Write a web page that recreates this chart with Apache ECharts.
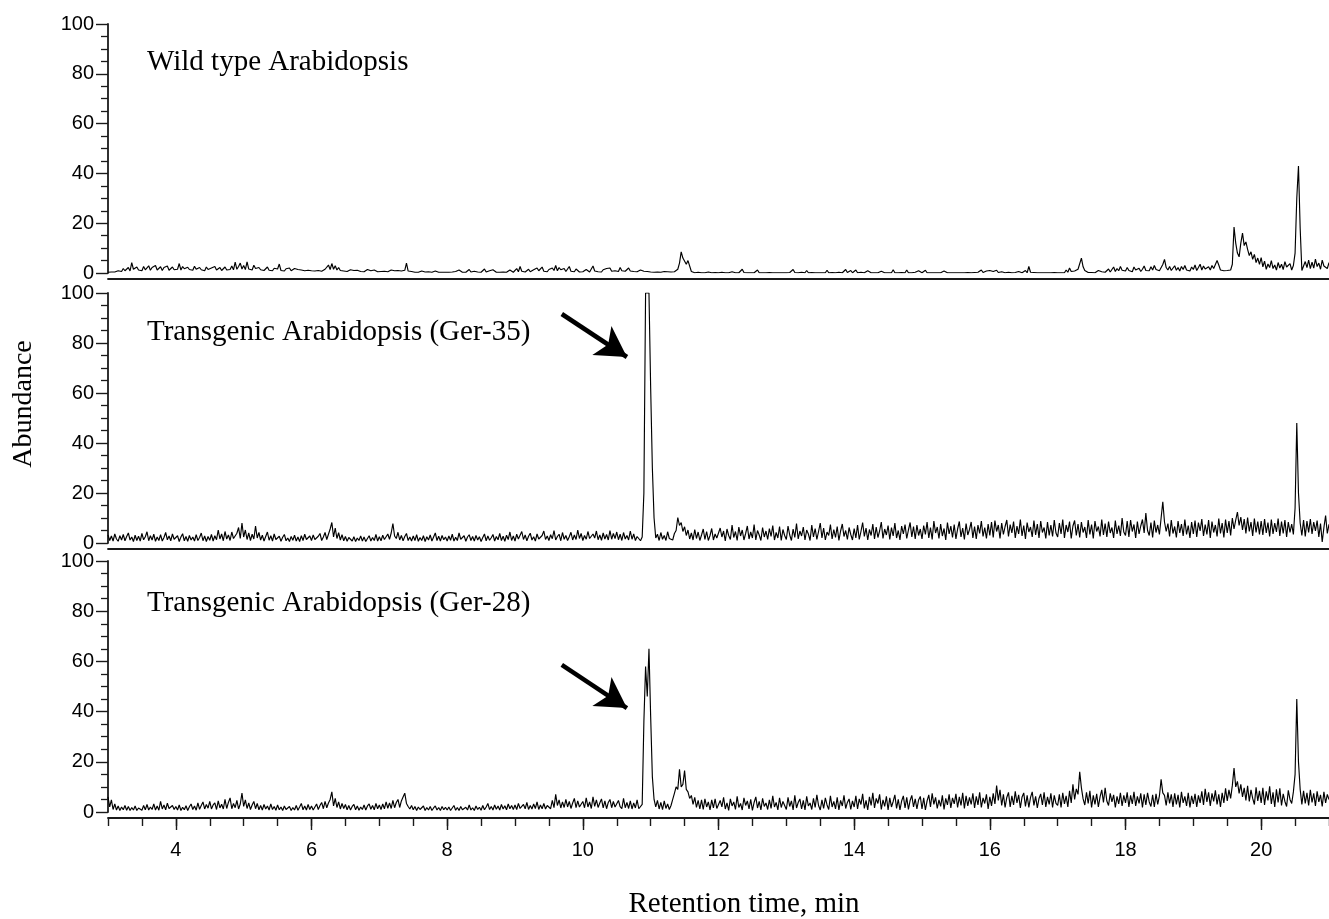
<!DOCTYPE html>
<html>
<head>
<meta charset="utf-8">
<script src="https://cdn.jsdelivr.net/npm/echarts@6/dist/echarts.min.js"></script>
<style>
html,body{margin:0;padding:0;background:#fff;}
#chart{width:1329px;height:919px;}
</style>
</head>
<body>
<div id="chart"></div>
<script>
// ---- DATA ----
const startTime = 3.0;      // min
const timeStep = 0.025;     // min between samples
const panelTitles = ['Wild type Arabidopsis', 'Transgenic Arabidopsis (Ger-35)', 'Transgenic Arabidopsis (Ger-28)'];
const xLabelValues = [4, 6, 8, 10, 12, 14, 16, 18, 20];
const xMinorTickValues = [3, 3.5, 4, 4.5, 5, 5.5, 6, 6.5, 7, 7.5, 8, 8.5, 9, 9.5, 10, 10.5, 11, 11.5, 12, 12.5, 13, 13.5, 14, 14.5, 15, 15.5, 16, 16.5, 17, 17.5, 18, 18.5, 19, 19.5, 20, 20.5, 21];
const yTickValues = [0, 20, 40, 60, 80, 100];
// arrows: [startTime, startAbundance, tipTime, tipAbundance]
const arrowGer35 = [9.69, 91.6, 10.65, 74.4];
const arrowGer28 = [9.69, 58.6, 10.65, 41.4];

// Wild type abundance, one row per minute (40 samples each), 3.0 .. 21.0 min
const wildType = [
0.3,0.3,0.4,1.2,0.4,0.5,0.9,1.6,0.6,1.8, 0.9,1.4,2.2,0.8,4.2,1.5,1.0,2.4,1.2,1.9, 0.9,2.6,1.3,1.8,2.9,1.1,2.2,1.5,3.0,1.2, 1.8,2.5,1.0,2.2,1.4,2.8,1.1,1.9,2.4,1.3,
2.1,1.5,3.8,1.2,2.6,1.7,1.0,2.3,1.4,2.0, 1.1,2.7,1.5,1.0,2.2,1.3,1.9,0.9,2.4,1.4, 1.1,2.0,1.5,2.6,1.2,1.8,2.2,1.0,1.6,2.4, 1.2,1.9,1.4,2.8,1.3,4.4,1.5,2.6,4.0,1.6,
3.0,1.4,4.5,1.6,2.3,1.2,3.1,1.8,1.2,2.2, 1.3,1.8,1.0,1.6,2.4,1.1,1.5,0.9,1.9,1.2, 1.6,3.6,1.0,1.4,0.8,1.7,1.1,2.0,0.9,1.3, 1.8,1.0,1.4,0.7,1.2,1.9,0.9,1.3,1.1,1.6,
0.9,1.3,0.8,1.6,1.0,1.2,0.7,1.1,1.5,0.8, 3.2,1.4,3.8,1.5,2.9,1.2,2.2,1.0,1.5,0.8, 1.2,0.6,0.9,1.3,0.7,1.0,0.5,1.1,0.8,0.6, 1.0,0.5,0.8,1.4,0.6,0.9,0.5,1.2,0.7,0.5,
0.9,0.6,1.3,0.7,1.0,0.5,0.8,1.2,0.6,0.9, 0.5,1.0,0.6,0.8,0.4,1.1,4.0,0.8,0.5,0.6, 0.4,0.3,0.6,0.3,0.4,0.8,0.3,0.4,0.3,0.5, 0.3,0.3,0.4,0.8,0.3,0.3,0.5,0.3,0.4,0.3,
0.4,0.3,1.0,0.4,0.3,0.6,0.3,1.2,0.4,0.3, 0.8,0.3,0.5,1.4,0.4,0.3,0.7,0.3,0.4,1.0, 0.3,0.6,1.6,0.4,0.3,0.9,0.3,1.3,0.5,0.3, 0.6,0.3,1.1,0.4,0.8,0.3,0.5,1.2,0.4,0.3,
0.6,1.8,0.5,2.6,0.7,1.2,0.4,0.9,1.5,0.5, 0.8,1.3,0.5,2.0,0.9,0.6,2.4,0.7,1.1,0.5, 1.4,0.6,2.0,1.0,3.0,0.9,2.2,1.3,0.8,1.8, 0.6,1.2,2.6,0.7,1.0,0.5,1.6,0.8,0.4,1.0,
0.5,0.9,1.4,0.6,0.4,1.0,2.8,0.8,1.2,0.5, 0.9,0.4,1.3,0.6,1.8,1.0,2.0,0.7,1.5,0.9, 1.3,0.6,2.2,0.9,1.6,0.7,1.2,2.0,0.8,1.4, 0.6,1.0,0.5,0.8,1.2,0.5,0.7,0.4,0.6,0.5,
0.4,0.5,0.3,0.6,0.4,0.5,0.3,0.4,0.6,0.4, 0.5,0.3,0.4,0.6,0.5,0.8,1.5,4.0,8.5,6.0, 5.5,3.5,5.0,4.5,0.6,0.2,0.1,0.1,0.3,0.1, 0.1,0.2,0.1,0.1,0.4,0.1,0.1,0.1,0.2,0.1,
0.1,0.1,0.3,0.1,0.1,0.2,0.1,0.1,0.5,0.1, 0.1,0.2,0.1,0.1,1.5,0.2,0.1,0.1,0.3,0.1, 0.1,0.1,0.2,1.2,0.1,0.1,0.1,0.3,0.1,0.1, 0.2,0.1,0.1,0.6,0.1,0.1,0.1,0.2,0.1,0.1,
0.1,0.1,0.2,0.1,1.4,0.2,0.1,0.1,0.1,0.3, 0.1,0.1,1.0,0.1,0.1,0.2,0.1,0.1,0.1,0.1, 0.2,0.1,0.1,0.1,1.1,0.1,0.1,0.2,0.1,0.1, 0.1,0.3,0.1,0.1,0.1,1.4,0.2,0.1,1.0,0.1,
0.2,1.2,0.1,0.1,0.3,0.1,0.1,0.1,0.9,0.1, 0.1,0.2,0.1,0.1,0.1,0.1,0.7,0.1,0.1,0.1, 0.1,0.2,0.1,1.3,0.1,0.1,0.1,0.1,0.2,0.1, 0.1,1.2,0.1,0.1,0.1,0.1,0.3,0.1,0.9,0.1,
0.1,0.1,1.1,0.1,0.1,0.1,0.2,0.1,0.9,0.1, 0.1,0.1,0.1,0.8,0.1,0.1,0.1,0.1,0.1,0.1, 0.1,0.1,0.1,0.1,0.1,0.1,0.1,0.2,0.1,0.1, 0.8,0.2,1.0,0.3,0.1,1.2,0.2,0.1,0.8,0.3,
1.0,0.2,0.6,0.1,1.1,0.2,0.1,0.5,0.1,0.1, 0.1,0.3,0.1,0.1,0.1,0.2,0.1,0.6,0.2,0.1, 0.1,1.0,0.1,2.6,0.3,0.1,0.2,0.1,0.1,0.1, 0.1,0.2,0.1,0.1,0.1,0.3,0.1,0.1,0.2,0.1,
0.1,0.3,0.1,0.8,0.1,1.2,0.3,2.0,0.6,0.3, 0.8,0.4,1.5,2.2,6.0,2.5,1.0,0.3,0.2,0.5, 0.2,0.8,0.1,0.3,1.0,0.2,0.5,1.2,0.3,0.9, 1.6,0.4,1.2,2.4,0.6,1.8,0.9,2.6,1.1,1.5,
0.8,2.2,1.0,1.6,0.5,2.4,1.2,0.7,1.9,0.6, 1.5,2.8,1.0,1.8,0.9,2.5,1.2,3.0,1.4,2.2, 0.9,1.6,3.4,5.5,2.2,1.2,2.6,1.0,1.8,2.9, 1.1,2.2,0.8,2.6,1.4,3.0,1.2,1.9,0.8,2.4,
1.4,3.2,1.0,2.2,3.5,1.2,2.8,1.6,0.9,2.5, 1.2,3.0,1.8,2.6,5.0,3.2,1.2,1.8,0.9,1.5, 1.0,1.8,1.2,3.5,18.5,12.0,8.0,6.5,12.0,16.0, 11.0,12.5,9.5,7.0,8.5,5.5,7.5,4.2,6.0,3.5,
6.2,2.5,4.8,1.5,3.6,2.2,5.0,1.8,3.2,1.2, 4.2,2.0,3.5,1.4,4.6,2.4,1.6,3.8,1.2,3.0, 8.0,30.0,43.0,18.0,1.0,0.5,4.6,2.2,5.2,1.8, 4.4,2.0,5.6,2.6,4.0,1.5,5.2,2.8,3.6,1.8,
4.2
];

// Transgenic Ger-35 abundance
const ger35 = [
3.2,1.0,2.8,0.8,3.6,1.6,0.7,2.9,1.2,3.4, 0.9,2.6,4.0,1.2,2.4,0.6,3.1,1.0,2.7,0.8, 3.8,1.3,2.5,4.5,0.9,2.9,1.2,3.5,0.7,2.4, 1.0,3.3,0.8,2.2,4.2,1.3,2.8,0.9,3.6,1.5,
1.0,2.9,0.6,2.4,3.7,0.9,2.6,0.7,3.0,1.2, 2.4,0.8,3.3,1.0,2.2,4.0,0.9,2.8,0.6,2.6, 1.1,3.4,0.8,2.9,1.3,5.2,1.6,3.6,0.9,4.6, 1.6,3.2,1.0,4.4,1.8,1.2,3.9,6.2,1.8,8.0,
2.4,5.2,1.4,4.0,1.0,3.5,1.6,6.8,2.0,4.2, 1.2,3.1,0.8,2.6,4.4,1.1,2.9,0.8,3.6,1.4, 0.9,2.7,0.7,2.3,3.4,0.9,2.0,0.6,2.6,1.1, 3.1,0.8,2.4,0.6,2.9,1.0,3.5,1.4,0.8,2.8,
1.0,3.2,1.4,0.8,2.7,3.8,1.0,2.4,4.2,1.4, 3.5,5.6,8.2,2.4,6.0,1.8,4.1,1.2,3.3,0.9, 2.6,0.7,2.2,3.0,0.8,2.5,0.6,2.0,1.0,2.8, 0.8,2.4,0.6,1.8,2.9,0.8,2.2,1.0,3.4,0.8,
2.5,0.9,3.1,1.4,1.0,3.6,1.5,4.0,7.8,2.8, 1.8,4.3,1.2,3.0,0.9,2.6,3.8,1.0,2.4,0.8, 2.8,1.0,3.3,0.7,2.2,1.0,2.9,0.6,2.5,1.2, 3.2,0.8,2.4,4.0,1.0,2.7,0.8,3.0,1.3,2.4,
0.8,2.8,1.1,3.5,0.8,2.3,1.0,4.0,1.5,0.9, 2.9,0.7,2.4,3.3,1.0,2.6,0.8,3.0,1.2,2.5, 0.6,2.2,3.6,0.9,2.8,1.1,2.1,3.4,0.8,2.6, 1.3,3.8,1.0,2.7,0.7,3.1,1.4,4.4,1.0,2.8,
0.8,3.5,1.6,1.0,4.6,1.4,3.2,0.9,2.7,3.9, 1.2,2.5,0.8,3.6,1.6,1.0,3.0,4.8,1.4,2.8, 1.0,3.3,1.7,5.0,1.2,2.6,3.5,0.9,4.2,1.5, 3.0,1.0,2.5,4.3,1.2,3.2,1.4,5.2,1.8,3.8,
1.0,3.0,1.5,4.6,1.8,1.2,3.6,2.0,4.8,1.3, 3.2,1.1,4.0,1.6,3.4,1.2,5.0,1.5,3.8,1.8, 4.4,1.3,3.5,1.0,4.2,1.6,3.0,1.2,4.8,1.5, 3.6,1.0,2.6,3.2,0.9,2.4,20.0,100,100,100,
62,30,10,2.0,3.5,1.0,4.2,1.5,3.0,1.0, 4.5,1.8,2.6,1.2,3.8,5.0,10.2,7.0,8.2,4.6, 6.5,3.0,5.2,1.6,4.0,1.2,5.4,1.8,4.4,1.0, 3.2,5.6,1.4,4.6,1.0,3.0,5.8,1.2,3.6,2.0,
1.2,6.0,2.4,4.8,0.8,5.6,3.0,1.4,7.2,2.2, 4.6,1.0,6.4,2.8,5.2,1.2,3.8,6.8,1.6,4.4, 2.0,7.4,1.2,5.0,3.2,1.0,6.2,2.4,4.8,1.4, 5.8,2.6,7.0,1.2,4.2,2.0,6.6,1.0,5.4,3.0,
1.4,6.8,3.2,1.0,5.6,2.2,7.8,1.6,4.8,2.8, 6.4,1.2,5.2,3.6,1.0,7.2,2.4,5.8,1.4,4.6, 8.0,2.0,6.0,1.2,4.4,3.0,7.4,1.6,5.4,2.2, 6.6,1.0,4.8,7.6,2.6,5.0,1.4,6.2,3.4,1.2,
5.8,2.0,7.2,1.4,4.6,8.2,2.6,6.0,1.2,5.4, 3.0,7.6,1.6,6.4,2.2,4.8,8.4,1.8,5.6,3.2, 7.0,1.4,6.2,2.8,8.0,2.0,5.0,1.2,6.8,3.6, 7.4,1.8,5.2,8.2,2.4,6.6,1.6,7.2,3.0,5.6,
1.6,7.0,3.4,8.4,2.0,6.2,1.4,8.8,4.0,6.4, 1.8,7.6,2.8,5.8,1.2,8.2,3.6,6.8,2.2,7.4, 1.6,5.6,8.6,2.4,6.0,1.4,7.8,3.2,5.4,8.4, 2.0,6.6,1.6,7.2,3.8,8.8,2.6,6.2,1.8,7.6,
3.0,8.4,2.2,9.0,4.6,7.2,1.8,8.0,3.4,6.6, 9.2,2.6,7.4,4.0,8.6,2.0,6.8,3.6,9.4,2.8, 7.0,1.6,8.2,4.4,6.4,2.4,9.0,3.2,7.6,2.0, 8.8,4.2,6.2,1.8,8.4,3.0,7.2,2.6,9.2,4.0,
2.4,8.0,3.6,9.4,2.0,7.2,4.4,8.6,1.8,6.8, 9.0,3.0,7.6,2.2,8.4,4.2,6.4,2.0,9.2,3.4, 7.4,1.8,8.8,4.6,6.6,2.6,9.4,3.2,7.8,2.4, 8.6,4.0,6.2,2.0,9.0,3.6,7.0,2.8,10.0,4.4,
3.0,8.8,2.4,9.2,4.6,7.4,2.0,8.6,3.6,6.8, 9.4,4.0,12.0,5.0,3.0,8.2,2.2,9.0,4.2,7.2, 3.4,10.0,16.5,8.4,4.6,7.8,2.6,9.2,3.8,6.6, 2.2,8.8,4.0,7.6,2.8,9.4,3.4,7.0,2.0,8.4,
3.6,9.0,2.4,8.2,4.8,9.6,2.8,7.4,3.4,9.2, 2.0,8.6,4.2,7.2,2.6,9.8,3.8,8.0,2.2,9.4, 4.0,8.8,3.0,10.0,5.6,9.2,12.4,7.0,10.4,5.2, 9.6,3.8,10.2,4.6,8.4,2.8,9.8,4.2,8.6,3.4,
8.8,3.2,9.6,4.0,8.2,2.6,9.4,3.6,8.0,4.4, 9.8,2.8,8.6,3.8,9.2,2.4,8.4,4.2,7.6,3.4, 14.0,48.0,20.0,8.0,3.0,9.2,2.6,8.8,4.2,9.6, 3.6,8.4,4.8,9.0,2.4,7.8,0.4,6.2,11.0,3.8,
7.5
];

// Transgenic Ger-28 abundance
const ger28 = [
6.0,2.0,4.8,1.0,3.2,0.8,2.4,0.6,2.0,0.9, 2.6,0.7,2.2,0.6,1.8,0.8,2.4,0.6,1.6,2.2, 0.7,2.6,0.9,3.0,0.8,2.0,1.0,3.2,0.8,2.4, 0.7,4.2,1.2,2.8,0.9,3.5,1.4,0.8,2.6,1.0,
2.2,0.8,2.8,0.6,1.9,0.9,2.5,0.6,2.1,3.2, 1.0,2.4,0.7,3.6,1.1,2.6,4.0,1.2,3.0,1.5, 4.2,1.2,2.8,3.6,1.0,4.4,1.6,3.1,1.2,5.0, 1.4,3.8,5.6,1.3,3.4,1.7,4.6,1.2,3.2,7.5,
2.2,4.8,1.4,3.6,1.0,2.8,4.2,1.3,3.4,0.9, 2.6,0.8,3.0,1.2,2.4,0.8,3.2,1.0,2.2,0.7, 2.8,0.9,2.0,0.6,2.4,1.0,0.8,2.2,0.6,1.8, 0.8,2.6,0.7,2.0,3.4,0.9,2.4,0.8,3.0,1.0,
2.4,0.8,2.0,3.2,1.0,2.6,3.8,1.3,4.2,1.7, 3.6,5.0,8.0,2.4,5.4,1.8,4.0,1.2,3.4,1.4, 3.0,0.9,2.6,0.8,2.2,3.0,0.9,2.4,0.7,2.0, 1.0,2.8,0.8,2.4,3.2,1.1,2.6,0.9,3.4,1.3,
2.8,1.0,3.2,1.3,4.0,1.5,3.6,1.4,4.6,1.7, 3.8,5.0,1.8,4.4,6.0,7.5,3.4,2.2,1.2,2.6, 0.9,2.2,0.6,2.0,1.0,0.8,2.4,0.6,1.8,0.8, 2.2,0.6,1.6,2.4,0.8,1.8,0.6,2.2,0.9,1.9,
0.8,2.0,0.6,1.6,2.6,0.7,1.8,0.6,2.2,0.9, 0.6,1.9,0.8,2.8,0.8,1.7,0.6,2.4,1.0,1.9, 0.7,2.6,0.9,2.0,3.4,1.0,2.2,0.8,2.8,1.1, 2.4,0.8,3.0,1.2,2.5,0.9,3.2,1.3,2.6,1.0,
2.8,1.0,3.4,1.4,0.9,3.0,1.3,3.8,1.0,2.6, 1.2,3.2,1.4,4.0,1.0,2.8,1.3,3.4,1.2,2.6, 3.2,1.3,4.6,1.7,7.0,2.6,4.8,1.6,4.0,1.8, 5.0,2.0,4.2,1.4,3.6,5.4,1.7,4.4,2.0,1.6,
4.2,1.7,5.6,2.0,4.0,1.4,6.0,2.2,4.8,1.8, 3.6,5.2,1.6,4.4,1.3,3.8,5.0,1.7,4.2,2.0, 1.4,4.6,2.1,1.3,5.4,1.7,3.8,1.4,4.4,1.2, 3.6,1.6,4.8,1.3,1.0,3.0,36.0,58.0,46.0,65.0,
38.0,14.0,5.0,2.0,4.6,1.2,3.8,0.9,4.4,1.4, 3.2,1.0,2.6,5.0,7.4,10.0,9.0,17.0,10.0,11.0, 16.5,9.0,8.0,5.4,6.6,3.0,5.8,1.8,4.6,1.2, 4.8,1.0,5.2,2.0,4.0,0.8,4.8,1.6,5.2,1.4,
0.8,4.6,2.0,5.8,1.2,3.6,0.6,5.2,2.4,4.0, 1.0,6.2,1.8,3.4,0.8,5.6,2.6,4.4,1.2,5.0, 0.6,3.8,6.0,1.6,4.2,0.8,5.4,2.2,3.6,1.0, 4.8,1.4,6.4,2.0,3.8,0.8,5.6,1.8,4.2,2.6,
1.0,5.8,2.2,4.4,0.8,6.6,1.6,3.8,5.2,1.2, 4.6,0.8,6.2,2.4,3.6,1.0,5.4,1.8,6.8,2.6, 0.8,4.8,1.4,5.6,2.8,1.0,6.4,2.0,4.2,1.2, 5.8,0.8,4.6,2.4,6.6,1.4,3.8,5.2,1.0,4.4,
2.0,6.4,1.2,5.2,3.0,7.2,1.4,4.6,0.8,6.0, 2.6,7.6,1.6,5.4,3.4,7.0,1.0,4.8,2.2,6.2, 0.8,5.6,2.0,4.2,6.8,1.4,5.0,0.8,4.4,6.4, 1.6,5.8,1.0,4.6,6.6,2.0,5.2,1.2,4.8,6.2,
1.2,5.6,0.8,4.4,6.8,2.0,7.4,3.0,5.8,1.4, 4.8,2.2,6.6,1.0,5.4,2.8,7.0,1.6,5.6,3.2, 7.2,1.8,6.0,2.6,7.6,1.4,6.4,2.4,5.8,3.0, 7.4,1.6,6.2,2.8,7.8,1.8,5.6,3.4,7.0,1.2,
6.0,2.4,7.4,3.2,10.5,4.6,8.8,2.6,7.0,1.8, 5.8,7.8,2.0,6.4,2.8,8.2,3.6,6.8,1.6,6.0, 7.6,2.2,6.6,1.8,5.8,8.0,2.6,6.2,1.6,5.4, 7.2,2.8,7.8,2.0,6.0,3.0,7.4,1.8,6.6,3.4,
2.6,7.0,1.8,7.6,3.2,6.4,2.0,8.4,3.6,11.0, 5.0,9.2,7.0,16.0,9.6,5.2,2.8,7.8,3.4,8.4, 1.8,6.6,3.0,7.2,2.0,6.0,8.8,3.8,9.6,4.4, 2.6,7.4,4.0,6.8,1.8,6.2,3.2,7.6,2.4,6.6,
3.6,7.8,2.0,6.6,3.2,8.0,2.4,6.2,3.4,7.4, 1.8,7.0,2.8,7.6,4.0,2.2,6.8,2.0,7.2,3.0, 6.4,13.0,7.6,6.6,2.6,7.8,3.4,7.0,2.0,7.4, 3.0,6.8,1.8,8.0,3.6,6.2,2.4,7.6,1.8,6.4,
3.2,7.2,2.0,6.6,3.6,8.2,2.8,9.2,4.0,7.8, 2.4,7.4,4.2,8.6,3.0,7.0,2.0,7.6,3.6,9.4, 4.4,8.8,5.4,10.6,17.5,10.0,12.2,7.4,11.0,6.0, 9.6,4.6,10.4,4.2,8.8,5.4,3.0,9.8,4.4,8.4,
3.6,9.6,2.8,8.2,4.6,10.2,3.2,7.8,2.0,9.0, 3.8,9.4,2.6,7.2,4.2,2.2,8.6,5.0,3.4,8.0, 15.0,45.0,20.0,9.0,3.0,8.4,3.4,7.6,2.6,8.8, 3.8,7.4,2.4,8.2,4.0,6.8,2.2,8.0,3.6,7.0,
5.0
];

// ---- CHART ----
const chart = echarts.init(document.getElementById('chart'), null, {renderer: 'canvas'});
const toPairs = arr => arr.map((v, i) => [Math.round((startTime + i * timeStep) * 1000) / 1000, v]);

const gridTops = [24, 293, 561];
const gridHeights = [249, 250, 251];
const ink = '#000';
const axisInk = '#1a1a1a';
const sansFont = '"Liberation Sans", Arial, sans-serif';
const serifFont = '"Liberation Serif", "Times New Roman", serif';

const grids = gridTops.map((t, i) => ({left: 108, right: 0, top: t, height: gridHeights[i], containLabel: false}));

const xAxes = [0, 1, 2].map(i => ({
  type: 'value', gridIndex: i, min: 3, max: 21, offset: 6,
  axisLine: {show: true, onZero: false, lineStyle: {color: axisInk, width: 1.8}},
  axisTick: i === 2 ? {show: true, inside: false, length: 12, customValues: xLabelValues, lineStyle: {color: axisInk, width: 1.4}} : {show: false},
  axisLabel: i === 2 ? {show: true, customValues: xLabelValues, margin: 22, fontSize: 20, fontFamily: sansFont, color: '#000'} : {show: false},
  splitLine: {show: false}
}));
xAxes.push({
  type: 'value', gridIndex: 2, min: 3, max: 21, offset: 6, position: 'bottom',
  axisLine: {show: false, onZero: false},
  axisTick: {show: true, inside: false, length: 8, customValues: xMinorTickValues, lineStyle: {color: axisInk, width: 1.4}},
  axisLabel: {show: false},
  splitLine: {show: false}
});

const yAxes = [0, 1, 2].map(i => ({
  type: 'value', gridIndex: i, min: 0, max: 100, interval: 20,
  axisLine: {show: true, lineStyle: {color: axisInk, width: 1.8}},
  axisTick: {show: true, inside: false, length: 12, customValues: yTickValues, lineStyle: {color: axisInk, width: 1.4}},
  minorTick: {show: true, splitNumber: 4, length: 7, lineStyle: {color: axisInk, width: 1.3}},
  axisLabel: {show: true, customValues: yTickValues, margin: 14, fontSize: 20, fontFamily: sansFont, color: '#000'},
  splitLine: {show: false},
  minorSplitLine: {show: false}
}));

function arrowMark(a) {
  return {
    silent: true,
    symbol: ['none', 'arrow'],
    symbolSize: [26, 30],
    label: {show: false},
    lineStyle: {color: '#000', width: 4.5, type: 'solid'},
    emphasis: {disabled: true},
    data: [[{coord: [a[0], a[1]]}, {coord: [a[2], a[3]]}]]
  };
}

const seriesData = [wildType, ger35, ger28];
const series = seriesData.map((d, i) => {
  const s = {
    type: 'line', xAxisIndex: i, yAxisIndex: i,
    data: toPairs(d),
    showSymbol: false, symbol: 'none', smooth: false, sampling: null,
    lineStyle: {color: ink, width: 1.15},
    clip: true,
    silent: true
  };
  if (i === 1) s.markLine = arrowMark(arrowGer35);
  if (i === 2) s.markLine = arrowMark(arrowGer28);
  return s;
});

const titleY = [62.5, 332.5, 603.5];
const graphics = panelTitles.map((t, i) => ({
  type: 'text', x: 147, y: titleY[i],
  style: {text: t, font: '29px ' + serifFont, fill: '#000', align: 'left', verticalAlign: 'middle', textAlign: 'left', textVerticalAlign: 'middle'}
}));
graphics.push({
  type: 'text', x: 23.5, y: 404, rotation: Math.PI / 2,
  style: {text: 'Abundance', font: '28px ' + serifFont, fill: '#000', align: 'center', verticalAlign: 'middle', textAlign: 'center', textVerticalAlign: 'middle'}
});
graphics.push({
  type: 'text', x: 744, y: 904,
  style: {text: 'Retention time, min', font: '29px ' + serifFont, fill: '#000', align: 'center', verticalAlign: 'middle', textAlign: 'center', textVerticalAlign: 'middle'}
});

chart.setOption({
  animation: false,
  backgroundColor: '#fff',
  grid: grids,
  xAxis: xAxes,
  yAxis: yAxes,
  series: series,
  graphic: graphics
});
</script>
</body>
</html>
